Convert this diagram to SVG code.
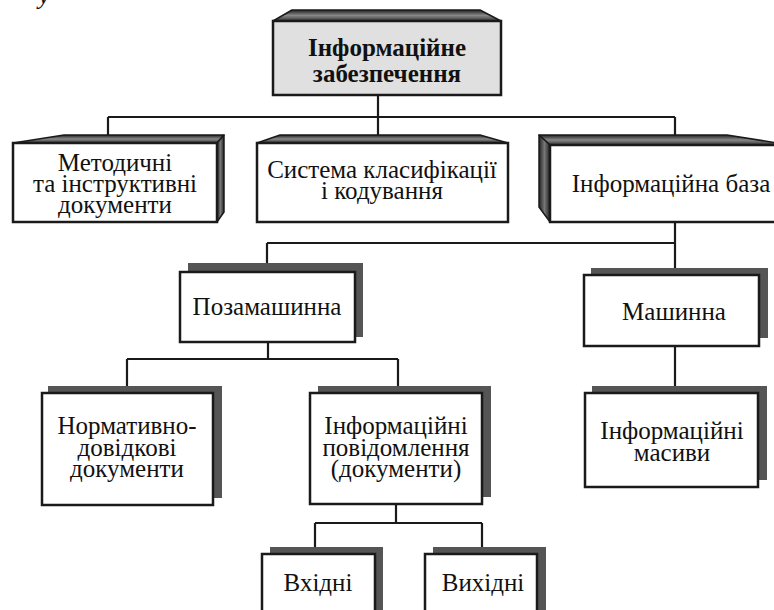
<svg xmlns="http://www.w3.org/2000/svg" width="774" height="610" viewBox="0 0 774 610">
<defs>
<linearGradient id="topg" x1="0" y1="0" x2="0" y2="1">
<stop offset="0" stop-color="#222"/><stop offset="0.5" stop-color="#888"/><stop offset="1" stop-color="#333"/>
</linearGradient>
<linearGradient id="sideg" x1="0" y1="0" x2="1" y2="0">
<stop offset="0" stop-color="#222"/><stop offset="0.5" stop-color="#777"/><stop offset="1" stop-color="#222"/>
</linearGradient>
</defs>
<style>
text{font-size:25px;fill:#111;text-anchor:middle}
.b{font-weight:bold}
.face{fill:#fff;stroke:#1a1a1a;stroke-width:2.5}
.gface{fill:#e0e0e0;stroke:#1a1a1a;stroke-width:2.5}
.top{fill:url(#topg);stroke:#1a1a1a;stroke-width:1.5;stroke-linejoin:round}
.side{fill:url(#sideg);stroke:#1a1a1a;stroke-width:1.5;stroke-linejoin:round}
.sh{fill:#555}
.c{fill:none;stroke:#1a1a1a;stroke-width:2.2}
</style>
<rect width="774" height="610" fill="#fff"/>
<g font-family="'Liberation Serif', Tinos, 'Times New Roman', 'Noto Serif', 'DejaVu Serif', FreeSerif, serif">
<text x="44" y="4" font-style="italic">у</text>
<g id="connectors">
<path class="c" d="M378,96 V117 M108,117 H675 M108,117 V143 M378,117 V143 M675,117 V143"/>
<path class="c" d="M675,222 V275 M267,243 H675 M267,243 V272"/>
<path class="c" d="M675,346 V393"/>
<path class="c" d="M268,342 V359 M127,359 H398 M127,359 V393 M398,359 V393"/>
<path class="c" d="M396,504 V523 M315,523 H482 M315,523 V554 M482,523 V554"/>
</g>
<g id="n-root">
<polygon class="top" points="273,21 292,10 480,10 501,21"/>
<rect class="gface" x="273" y="21" width="228" height="74"/>
<text class="b" x="387" y="56">Інформаційне</text>
<text class="b" x="387" y="82">забезпечення</text>
</g>
<g id="n-method">
<polygon class="top" points="13,143 64,135 224,135 217,143"/>
<polygon class="side" points="217,143 224,135 224,212 217,222"/>
<rect class="face" x="13" y="143" width="204" height="79"/>
<text x="115" y="171">Методичні</text>
<text x="115" y="192">та інструктивні</text>
<text x="115" y="213">документи</text>
</g>
<g id="n-system">
<polygon class="top" points="257,143 280,135 480,135 508,143"/>
<rect class="face" x="257" y="143" width="251" height="79"/>
<text x="382" y="178">Система класифікації</text>
<text x="382" y="199">і кодування</text>
</g>
<g id="n-base">
<polygon class="top" points="539,135 727,135 790,145 550,145"/>
<polygon class="side" points="550,145 539,135 539,207 550,222"/>
<rect class="face" x="550" y="145" width="240" height="77"/>
<text x="671" y="192">Інформаційна база</text>
</g>
<g id="n-offline">
<rect class="sh" x="188" y="263" width="175" height="74"/>
<rect class="face" x="180" y="272" width="175" height="70"/>
<text x="267" y="315">Позамашинна</text>
</g>
<g id="n-machine">
<rect class="sh" x="591" y="268" width="177" height="70"/>
<rect class="face" x="584" y="275" width="175" height="71"/>
<text x="674" y="320">Машинна</text>
</g>
<g id="n-norm">
<rect class="sh" x="48" y="386" width="174" height="112"/>
<rect class="face" x="42" y="393" width="171" height="112"/>
<text x="127" y="434">Нормативно-</text>
<text x="127" y="456">довідкові</text>
<text x="127" y="477">документи</text>
</g>
<g id="n-msg">
<rect class="sh" x="318" y="386" width="173" height="111"/>
<rect class="face" x="310" y="393" width="172" height="111"/>
<text x="396" y="434">Інформаційні</text>
<text x="396" y="456">повідомлення</text>
<text x="396" y="477">(документи)</text>
</g>
<g id="n-arrays">
<rect class="sh" x="592" y="386" width="175" height="94"/>
<rect class="face" x="585" y="393" width="173" height="94"/>
<text x="672" y="439">Інформаційні</text>
<text x="672" y="461">масиви</text>
</g>
<g id="n-in">
<rect class="sh" x="270" y="547" width="113" height="80"/>
<rect class="face" x="262" y="554" width="113" height="70"/>
<text x="318" y="591">Вхідні</text>
</g>
<g id="n-out">
<rect class="sh" x="433" y="547" width="113" height="80"/>
<rect class="face" x="425" y="554" width="112" height="70"/>
<text x="483" y="591">Вихідні</text>
</g>
</g>
</svg>
